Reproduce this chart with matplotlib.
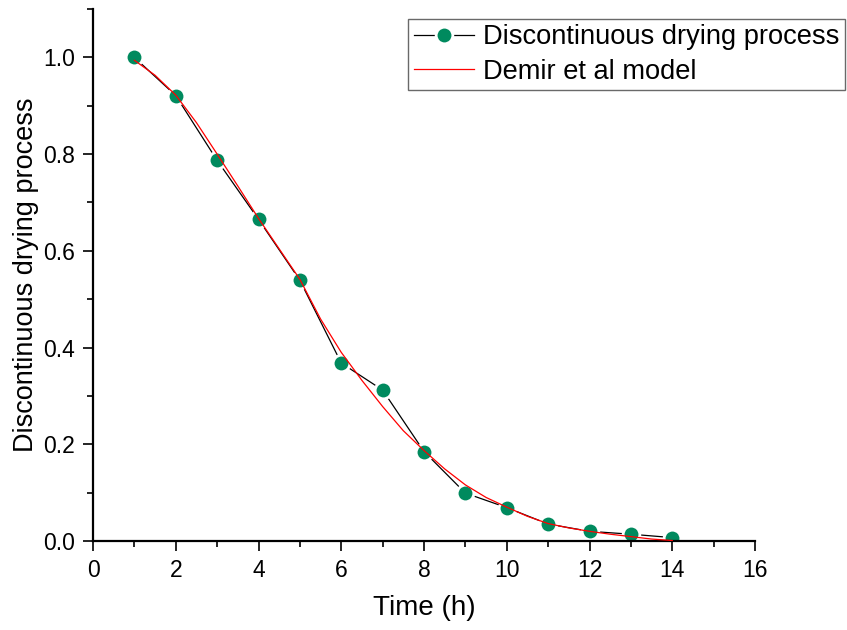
import matplotlib
matplotlib.use("Agg")
import matplotlib.pyplot as plt
from matplotlib.ticker import MultipleLocator

plt.rcParams['font.family'] = ['Liberation Sans', 'DejaVu Sans']

# Measured moisture ratio over drying time
time_h = [1, 2, 3, 4, 5, 6, 7, 8, 9, 10, 11, 12, 13, 14]
moisture_ratio = [1.0, 0.921, 0.787, 0.665, 0.539, 0.368, 0.312, 0.185,
                  0.099, 0.069, 0.035, 0.020, 0.014, 0.007]

# Demir et al model curve, sampled every half hour
model_time = [1, 1.5, 2, 2.5, 3, 3.5, 4, 4.5, 5, 5.5, 6, 6.5, 7, 7.5,
              8, 8.5, 9, 9.5, 10, 10.5, 11, 11.5, 12, 12.5, 13, 13.5, 14]
model_ratio = [0.994, 0.963, 0.922, 0.865, 0.800, 0.734, 0.667, 0.604,
               0.541, 0.459, 0.390, 0.332, 0.278, 0.228, 0.187, 0.149,
               0.116, 0.090, 0.070, 0.051, 0.036, 0.027, 0.020, 0.014,
               0.009, 0.004, 0.001]

x_ticks = [0, 2, 4, 6, 8, 10, 12, 14, 16]
y_ticks = [0.0, 0.2, 0.4, 0.6, 0.8, 1.0]

fig = plt.figure(figsize=(8.47, 6.30), dpi=100)
ax = fig.add_axes([0.1098, 0.1413, 0.7816, 0.8444])

ax.plot(time_h, moisture_ratio, color='black', lw=0.9, marker='o',
        markersize=12, markerfacecolor='#008A5E', markeredgecolor='white',
        markeredgewidth=2.0, zorder=2, label='Discontinuous drying process')
ax.plot(model_time, model_ratio, color='red', lw=0.9, zorder=3,
        label='Demir et al model')

ax.set_xlim(0, 16)
ax.set_ylim(0, 1.1)
ax.set_xticks(x_ticks)
ax.set_yticks(y_ticks)
ax.set_xticklabels([str(v) for v in x_ticks])
ax.set_yticklabels([f'{v:.1f}' for v in y_ticks])
ax.xaxis.set_minor_locator(MultipleLocator(1))
ax.yaxis.set_minor_locator(MultipleLocator(0.1))

for side in ('top', 'right'):
    ax.spines[side].set_visible(False)
for side in ('left', 'bottom'):
    ax.spines[side].set_linewidth(1.6)

ax.tick_params(which='major', direction='out', length=7, width=1.2,
               labelsize=16.5, pad=6)
ax.tick_params(which='minor', direction='out', length=4, width=1.2)

ax.set_xlabel('Time (h)', fontsize=20, labelpad=9)
ax.set_ylabel('Discontinuous drying process', fontsize=19.5, labelpad=3)

leg = ax.legend(loc='upper right', bbox_to_anchor=(845 / 847, 1 - 19 / 630),
                bbox_transform=fig.transFigure, fontsize=19.6, frameon=True,
                fancybox=False, handlelength=2.2, handletextpad=0.35,
                borderpad=0.2, labelspacing=0.3, borderaxespad=0)
leg.get_frame().set_edgecolor('#444444')
leg.get_frame().set_linewidth(1.0)

fig.savefig('out.png', dpi=100)
